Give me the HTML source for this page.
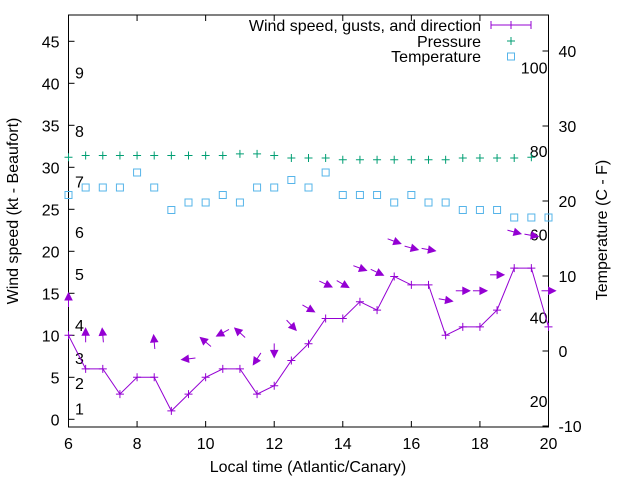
<!DOCTYPE html>
<html><head><meta charset="utf-8"><style>
body{margin:0;background:#fff;}
svg text{font-family:"Liberation Sans",Arial,sans-serif;fill:#000;}
</style></head><body>
<svg id="chart" width="640" height="480" viewBox="0 0 640 480" xmlns="http://www.w3.org/2000/svg">
<rect width="640" height="480" fill="#fff"/>
<g id="g"></g>
</svg>
<script>
const times = [6,6.5,7,7.5,8,8.5,9,9.5,10,10.5,11,11.5,12,12.5,13,13.5,14,14.5,15,15.5,16,16.5,17,17.5,18,18.5,19,19.5,20];
const windSpeed = [10,6,6,3,5,5,1,3,5,6,6,3,4,7,9,12,12,14,13,17,16,16,10,11,11,13,18,18,11];
const gustTimes = [6,6.5,7,8.5,9.5,10,10.5,11,11.5,12,12.5,13,13.5,14,14.5,15,15.5,16,16.5,17,17.5,18,18.5,19,19.5,20];
const gustSpeed = [14.2,10,10,9.2,7.2,9.2,10.3,10.3,7.2,8.2,11.2,13.2,16.1,16.1,18,17.5,21.2,20.4,20.2,14.2,15.3,15.3,17.2,22.3,21.9,15.3];
const gustAngle = [90,90,95,95,187,140,208,138,237,270,313,330,335,330,340,335,340,345,350,350,0,0,0,345,350,0];
const pressTimes = [6,6.5,7,7.5,8,8.5,9,9.5,10,10.5,11,11.5,12,12.5,13,13.5,14,14.5,15,15.5,16,16.5,17,17.5,18,18.5,19,19.5];
const pressure = [31.2,31.4,31.4,31.4,31.4,31.4,31.4,31.4,31.4,31.4,31.6,31.6,31.4,31.1,31.1,31.1,30.9,30.9,30.9,30.9,30.9,30.9,30.9,31.1,31.1,31.1,31.1,31.2];
const temperature = [20.8,21.8,21.8,21.8,23.8,21.8,18.8,19.8,19.8,20.8,19.8,21.8,21.8,22.8,21.8,23.8,20.8,20.8,20.8,19.8,20.8,19.8,19.8,18.8,18.8,18.8,17.8,17.8,17.8];
const xTicks = [6,8,10,12,14,16,18,20];
const yTicks = [0,5,10,15,20,25,30,35,40,45];
const y2Ticks = [-10,0,10,20,30,40];
const beaufortVals = [1.3,4.3,7.3,11.2,17.3,22.3,28.3,34.3,41.3];
const beaufortLabels = ["1","2","3","4","5","6","7","8","9"];
const fahrenheit = [20,40,60,80,100];

const L=68.5,R=548.5,T=15,B=427;
const X=t=>L+(t-6)*(R-L)/14;
const Y=v=>419.3-v*8.4;
const Y2=c=>351-c*7.5;
const g=document.getElementById('g');
const NS='http://www.w3.org/2000/svg';
const FS='16';
function mk(tag,attrs,parent){const e=document.createElementNS(NS,tag);for(const k in attrs)e.setAttribute(k,attrs[k]);(parent||g).appendChild(e);return e;}
const P='#9400d3',G='#009e73',C='#56b4e9';

const fr=mk('rect',{x:L,y:T,width:R-L,height:B-T,fill:'none',stroke:'#000','stroke-width':1});



xTicks.forEach(t=>{
  const tk=mk('path',{d:`M${X(t)},${B}v-6M${X(t)},${T}v6`,stroke:'#000'});
  
  
  const tx=mk('text',{x:X(t),y:B+22,'text-anchor':'middle','font-size':FS});
  tx.textContent=t;
  
  
});
yTicks.forEach(v=>{
  const tk=mk('path',{d:`M${L},${Y(v)}h6`,stroke:'#000'});
  
  
  const tx=mk('text',{x:L-9,y:Y(v)+6,'text-anchor':'end','font-size':FS});
  tx.textContent=v;
  
  
});
y2Ticks.forEach(v=>{
  const tk=mk('path',{d:`M${R},${Y2(v)}h-6`,stroke:'#000'});
  
  
  const tx=mk('text',{x:R+10,y:Y2(v)+6,'text-anchor':'start','font-size':FS});
  tx.textContent=v;
  
  
});
beaufortVals.forEach((v,i)=>{
  const tx=mk('text',{x:75,y:Y(v)+6,'font-size':FS});
  tx.textContent=beaufortLabels[i];
  
  
});
fahrenheit.forEach(f=>{
  const tx=mk('text',{x:R-1,y:Y2((f-32)*5/9)+6,'text-anchor':'end','font-size':FS});
  tx.textContent=f;
  
  
});

let t1=mk('text',{x:308,y:472,'text-anchor':'middle','font-size':FS});t1.textContent='Local time (Atlantic/Canary)';


let t2=mk('text',{x:0,y:0,'text-anchor':'middle','font-size':FS,transform:'translate(18,211) rotate(-90)'});t2.textContent='Wind speed (kt - Beaufort)';


let t3=mk('text',{x:0,y:0,'text-anchor':'middle','font-size':FS,transform:'translate(607,230) rotate(-90)'});t3.textContent='Temperature (C - F)';



pressTimes.forEach((t,i)=>{
  const p=mk('path',{d:`M${X(t)-4},${Y(pressure[i])}h8M${X(t)},${Y(pressure[i])-4}v8`,stroke:G,'stroke-width':1});
  
  
});
times.forEach((t,i)=>{
  const r=mk('rect',{x:X(t)-3.5,y:Y2(temperature[i])-3.5,width:7,height:7,fill:'none',stroke:C,'stroke-width':1});
  
  
});
const wl=mk('polyline',{points:times.map((t,i)=>X(t)+','+Y(windSpeed[i])).join(' '),fill:'none',stroke:P,'stroke-width':1});


times.forEach((t,i)=>{
  const p=mk('path',{d:`M${X(t)-4},${Y(windSpeed[i])}h8M${X(t)},${Y(windSpeed[i])-4}v8`,stroke:P});
  
  
});
gustTimes.forEach((t,i)=>{
  const a=gustAngle[i]*Math.PI/180, dx=Math.cos(a), dy=-Math.sin(a), len=14;
  const cx=X(t), cy=Y(gustSpeed[i]);
  const hx=cx+dx*len/2, hy=cy+dy*len/2, tx=cx-dx*len/2, ty=cy-dy*len/2;
  const bx=hx-dx*7, by=hy-dy*7, px=-dy*3.5, py=dx*3.5;
  const gr=mk('g',{});
  
  
  mk('line',{x1:tx,y1:ty,x2:bx,y2:by,stroke:P,'stroke-width':1},gr);
  mk('polygon',{points:`${hx},${hy} ${bx+px},${by+py} ${bx-px},${by-py}`,fill:P,stroke:P,'stroke-width':1},gr);
});

const leg=[['Wind speed, gusts, and direction',25],['Pressure',41],['Temperature',56]];
leg.forEach(([s,y],i)=>{
  const tx=mk('text',{x:481,y:y+6,'text-anchor':'end','font-size':FS});tx.textContent=s;
  
  
});
mk('path',{d:'M491,25h40M491,21v8M531,21v8M511,21v8',stroke:P});
mk('path',{d:'M507,41h8M511,37v8',stroke:G});
mk('rect',{x:507.5,y:53,width:7,height:7,fill:'none',stroke:C});
</script>
</body></html>
